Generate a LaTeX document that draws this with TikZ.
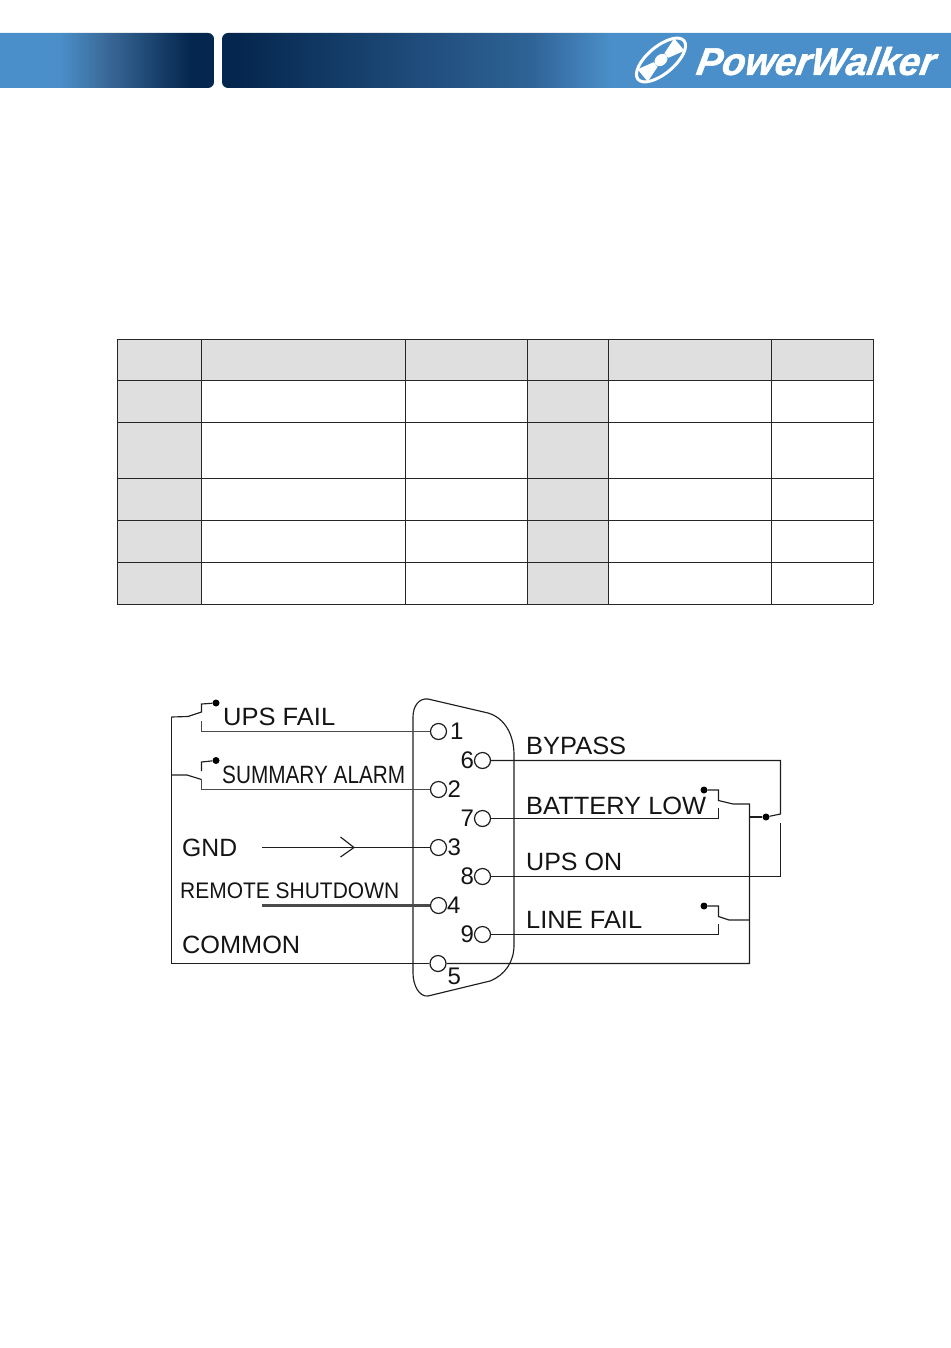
\documentclass[tikz,border=0pt]{standalone}
\usepackage{fontspec}
\setmainfont{Liberation Sans}
\newfontfamily\logofont[FakeBold=1.5,FakeSlant=0.18]{Liberation Sans Bold Italic}
\usetikzlibrary{calc}
\definecolor{barblue}{HTML}{4A8FC9}
\definecolor{barmid}{HTML}{2F6396}
\definecolor{barmidl}{HTML}{3A6A9A}
\definecolor{bardark}{HTML}{05274F}
\definecolor{cellgray}{HTML}{DFDFDF}
\definecolor{wire}{HTML}{1E1E1E}
\definecolor{wiregray}{HTML}{4A4A4A}
\pgfdeclarehorizontalshading{barleft}{100bp}{color(0bp)=(barblue);color(40.6bp)=(barblue);color(50.7bp)=(barmidl);color(69.6bp)=(bardark);color(100bp)=(bardark)}
\pgfdeclarehorizontalshading{barright}{100bp}{color(0bp)=(bardark);color(26.2bp)=(bardark);color(45.9bp)=(barmid);color(51.3bp)=(barblue);color(100bp)=(barblue)}
\newcommand{\lab}[2]{\resizebox{#1pt}{\height}{#2}}
\tikzset{
  gridline/.style={draw=black!85,line width=1pt},
  thinwire/.style={draw=wire,line width=1.15pt},
  midwire/.style={draw=wiregray,line width=1.9pt},
  heavywire/.style={draw=wiregray,line width=2.4pt},
  pin/.style={circle,draw=wire,line width=1.2pt,fill=white,minimum size=16pt,inner sep=0pt},
  contact/.style={circle,fill=black,minimum size=7pt,inner sep=0pt},
  lbl/.style={anchor=base west,inner sep=0pt,text=black!92,font=\fontsize{25}{28}\selectfont},
  num/.style={anchor=base west,inner sep=0pt,text=black!92,font=\fontsize{24}{28}\selectfont},
}
\begin{document}
\begin{tikzpicture}[x=1pt,y=-1pt]
\useasboundingbox (0,0) rectangle (950,1348);
% header band
\path[shading=barleft,rounded corners=6pt] (-10,33) -- (214,33) -- (214,88) -- (-10,88) -- cycle;
\path[shading=barright,rounded corners=6pt] (222,33) -- (960,33) -- (960,88) -- (222,88) -- cycle;
% logo
\begin{scope}[shift={(661,60)},rotate=-50]
  \draw[white,line width=3pt] (0,0) ellipse [x radius=13.5,y radius=30];
  \fill[white] (-8,-24) -- (8,-24) -- (3,-7) -- (-3,-7) -- cycle;
  \fill[white] (-8,24) -- (8,24) -- (3,7) -- (-3,7) -- cycle;
  \fill[white] (0,0) ellipse [x radius=5.5,y radius=7];
\end{scope}
\node[anchor=south west,inner sep=0pt,text=white] (logo) at (695,75.5)
  {\resizebox{238pt}{28pt}{\logofont PowerWalker}};
% table
\fill[cellgray] (117,339) rectangle (873,380);
\fill[cellgray] (117,380) rectangle (201,604);
\fill[cellgray] (528,380) rectangle (608.5,604);
\foreach \x in {117,201,405.5,527.5,608.5,771.5,873}
  \draw[gridline] (\x,339) -- (\x,604);
\foreach \y in {339,380,422,478,520,562,604}
  \draw[gridline] (117,\y) -- (873,\y);
% connector shell
\draw[thinwire] (413,973) -- (413,717)
  .. controls (413,706) and (419,698) .. (428,699)
  -- (488,713)
  .. controls (505,718) and (514,735) .. (514,755)
  -- (514,945)
  .. controls (514,962) and (505,975) .. (490,981)
  -- (428,996)
  .. controls (419,997) and (413,985) .. (413,973) -- cycle;
% pins
\node[pin] (p1) at (438.5,731.5) {};
\node[pin] (p2) at (438.5,789.5) {};
\node[pin] (p3) at (438.5,847.5) {};
\node[pin] (p4) at (438.5,905.5) {};
\node[pin] (p5) at (438,963.5) {};
\node[pin] (p6) at (482.5,760.5) {};
\node[pin] (p7) at (482.5,818.5) {};
\node[pin] (p8) at (482.5,876.5) {};
\node[pin] (p9) at (482.5,934.5) {};
\node[num] (n1) at (450,739) {1};
\node[num] (n2) at (447.5,797) {2};
\node[num] (n3) at (447.5,855) {3};
\node[num] (n4) at (447,913) {4};
\node[num] (n5) at (447.5,984) {5};
\node[num] (n6) at (460.5,768) {6};
\node[num] (n7) at (460.5,826) {7};
\node[num] (n8) at (460.5,884) {8};
\node[num] (n9) at (460.5,942) {9};
% labels
\node[lbl] (tups) at (223,725) {\lab{112}{UPS FAIL}};
\node[lbl] (tsum) at (222,783) {\lab{183}{SUMMARY ALARM}};
\node[lbl] (tgnd) at (182,856) {\lab{55}{GND}};
\node[lbl,font=\fontsize{22.5}{26}\selectfont] (trem) at (180,898) {\lab{219}{REMOTE SHUTDOWN}};
\node[lbl] (tcom) at (182,953) {\lab{118}{COMMON}};
\node[lbl] (tbyp) at (526,754) {\lab{100}{BYPASS}};
\node[lbl] (tbat) at (526,814) {\lab{180}{BATTERY LOW}};
\node[lbl] (tupo) at (526,870) {\lab{96}{UPS ON}};
\node[lbl] (tlin) at (526,928) {\lab{116}{LINE FAIL}};
% free ends of wires
\coordinate (busT) at (171.5,717);
\coordinate (busB) at (171.5,963.5);
\coordinate (a1) at (201.5,721);
\coordinate (a2) at (201.5,779);
\coordinate (g) at (262,847.5);
\coordinate (r) at (262,905.5);
\coordinate (rail) at (749.5,963.5);
\node[contact] (d1) at (216,703) {};
\node[contact] (d2) at (216,760.5) {};
\node[contact] (d7) at (704,790) {};
\node[contact] (d9) at (704,906) {};
\node[contact] (d6) at (766,817) {};
% left side
\draw[line width=1.9pt,draw=wire] (busT) -- (busB);
\draw[thinwire] (busT) -- (188,716.5) -- (201.5,712) -- (201.5,704) -- (d1);
\draw[midwire] (a1) -- (201.5,731.5) -- (p1);
\draw[thinwire] (171.5,775) -- (187,775) -- (201.5,779.5);
\draw[thinwire] (201.5,771) -- (201.5,762) -- (d2);
\draw[midwire] (a2) -- (201.5,789.5) -- (p2);
\draw[thinwire] (g) -- (p3);
\draw[thinwire] (340.5,837) -- (354,847.5) -- (340.5,857);
\draw[heavywire] (r) -- (p4);
\draw[thinwire] (busB) -- (p5);
% right side
\draw[thinwire] (p5) -- (rail) -- (749.5,804) -- (733,804) -- (718.5,800.5) -- (718.5,790) -- (d7);
\draw[thinwire] (p6) -- (780.5,760.5) -- (780.5,814) -- (d6);
\draw[thinwire] (749.5,817) -- (d6);
\draw[thinwire] (p7) -- (718.5,818.5) -- (718.5,808);
\draw[thinwire] (p8) -- (780.5,876.5) -- (780.5,823);
\draw[thinwire] (p9) -- (718.5,934.5) -- (718.5,924);
\draw[thinwire] (749.5,920) -- (729,920) -- (718.5,916.5) -- (718.5,906) -- (d9);
\end{tikzpicture}
\end{document}
